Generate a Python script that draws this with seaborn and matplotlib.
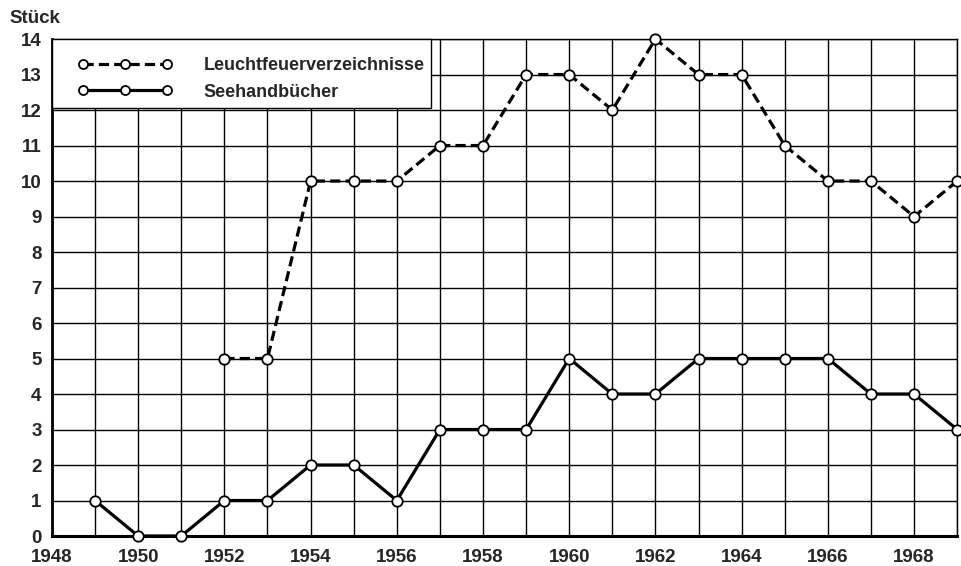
import numpy as np
import pandas as pd
import seaborn as sns
import matplotlib.pyplot as plt
from matplotlib.legend_handler import HandlerLine2D

# Jahresdaten ablesen aus der Vorlage
years_leucht = [1952, 1953, 1954, 1955, 1956, 1957, 1958, 1959, 1960, 1961,
                1962, 1963, 1964, 1965, 1966, 1967, 1968, 1969]
leucht = [5, 5, 10, 10, 10, 11, 11, 13, 13, 12, 14, 13, 13, 11, 10, 10, 9, 10]

years_see = [1949, 1950, 1951, 1952, 1953, 1954, 1955, 1956, 1957, 1958, 1959,
             1960, 1961, 1962, 1963, 1964, 1965, 1966, 1967, 1968, 1969]
see = [1, 0, 0, 1, 1, 2, 2, 1, 3, 3, 3, 5, 4, 4, 5, 5, 5, 5, 4, 4, 3]

xticks = list(range(1948, 1970, 2))
yticks = list(range(0, 15))

df = pd.concat([
    pd.DataFrame({'Jahr': years_leucht, 'Stück': leucht, 'Reihe': 'Leuchtfeuerverzeichnisse'}),
    pd.DataFrame({'Jahr': years_see, 'Stück': see, 'Reihe': 'Seehandbücher'}),
])

sns.set_style('white')
plt.rcParams['font.family'] = ['Liberation Sans', 'DejaVu Sans']
plt.rcParams['font.weight'] = 'bold'
fs = 13.5

fig = plt.figure(figsize=(9.62, 5.66), dpi=100)
ax = fig.add_axes([0.054, 0.053, 0.941, 0.878])

sns.lineplot(data=df, x='Jahr', y='Stück', style='Reihe',
             dashes={'Leuchtfeuerverzeichnisse': (3.2, 1.6), 'Seehandbücher': ''},
             markers={'Leuchtfeuerverzeichnisse': 'o', 'Seehandbücher': 'o'},
             color='black', linewidth=2.3, markersize=7.5,
             markerfacecolor='white', markeredgecolor='black', markeredgewidth=1.3,
             ax=ax, zorder=3)
for ln in ax.get_lines():
    ln.set_clip_on(False)

ax.set_xlim(1948, 1969)
ax.set_ylim(0, 14)
ax.set_xticks(range(1948, 1970))
ax.set_xticklabels([str(y) if y in xticks else '' for y in range(1948, 1970)])
ax.set_yticks(yticks)
ax.set_yticklabels([str(v) for v in yticks])
ax.grid(True, color='black', linewidth=1.0)
ax.tick_params(length=0, labelsize=fs)
ax.tick_params(axis='x', pad=9)
ax.tick_params(axis='y', pad=7.5)
for s in ax.spines.values():
    s.set_color('black')
    s.set_linewidth(1.0)
ax.spines['bottom'].set_linewidth(2.2)
ax.spines['left'].set_linewidth(2.0)
ax.set_xlabel('')
ax.set_ylabel('')

# Legende: leerer Mini-Titel schiebt die Zeilen etwas nach unten
leg = ax.legend(loc='upper left', bbox_to_anchor=(0.0, 1.0), frameon=True,
                fancybox=False, edgecolor='black', framealpha=1, fontsize=13,
                title=' ', title_fontsize=0.5,
                handlelength=6.28, borderpad=0.4, labelspacing=0.54,
                handletextpad=1.7, borderaxespad=0,
                handler_map={plt.Line2D: HandlerLine2D(numpoints=3, xpad=1.02)})
leg.get_frame().set_linewidth(1.0)
leg.set_zorder(5)
for h in leg.legend_handles:
    h.set_markersize(6.5)
    h.set_linewidth(2.3)

fig.text(0.010, 0.968, 'Stück', fontsize=fs, fontweight='bold', ha='left', va='center')

fig.savefig('out.png', dpi=100)
